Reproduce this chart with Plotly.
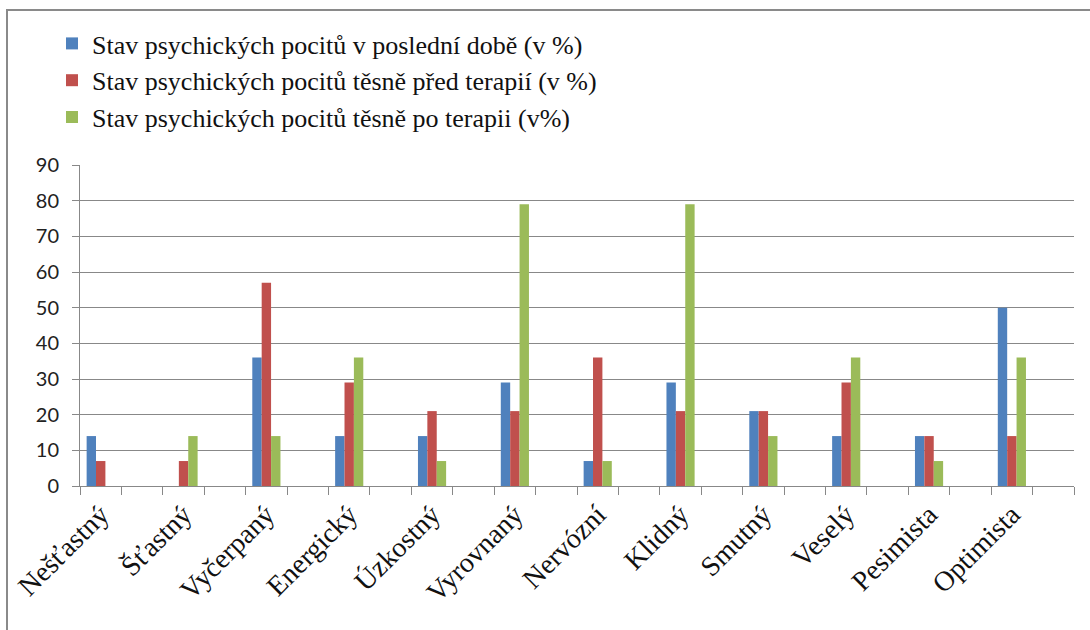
import plotly.graph_objects as go

categories = ["Nešťastný", "Šťastný", "Vyčerpaný", "Energický", "Úzkostný", "Vyrovnaný",
              "Nervózní", "Klidný", "Smutný", "Veselý", "Pesimista", "Optimista"]
series_names = ["Stav psychických pocitů v poslední době (v %)",
                "Stav psychických pocitů těsně před terapií (v %)",
                "Stav psychických pocitů těsně po terapii (v%)"]
recent = [14, 0, 36, 14, 14, 29, 7, 29, 21, 14, 14, 50]
before = [7, 7, 57, 29, 21, 21, 36, 21, 21, 29, 14, 14]
after = [0, 14, 14, 36, 7, 79, 7, 79, 14, 36, 7, 36]
y_ticks = [0, 10, 20, 30, 40, 50, 60, 70, 80, 90]

colors = ["#4F81BD", "#C0504D", "#9BBB59"]

# category axis: every labelled category is followed by an empty slot
cat_array = []
for i, c in enumerate(categories):
    cat_array.append(c)
    cat_array.append("\u200b" * (i + 1))


def with_blanks(vals):
    out = []
    for v in vals:
        out.append(v)
        out.append(None)
    return out


W, H = 1090, 630
L, R, T, B = 80, 16, 165, 144
pw, ph = W - L - R, H - T - B

fig = go.Figure()
for name, vals, col in zip(series_names, [recent, before, after], colors):
    fig.add_trace(go.Bar(x=cat_array, y=with_blanks(vals), name=name, marker_color=col,
                         marker_line_width=0, legendgroup=name))

grid = "#888888"
fig.update_layout(
    width=W, height=H,
    margin=dict(l=L, r=R, t=T, b=B, autoexpand=False),
    paper_bgcolor="white", plot_bgcolor="white",
    barmode="group", bargap=0.32, bargroupgap=0,
    showlegend=True,
    legend=dict(
        x=(52 - L) / pw, y=1 + (T - 20) / ph, xanchor="left", yanchor="top",
        font=dict(family="Liberation Serif", size=26, color="#111111"),
        tracegroupgap=0, bgcolor="rgba(0,0,0,0)",
    ),
    xaxis=dict(
        type="category", categoryorder="array", categoryarray=cat_array,
        range=[-0.5, len(cat_array) - 0.5],
        tickson="boundaries", ticks="outside", ticklen=8, tickcolor=grid, tickwidth=1,
        showline=True, linecolor=grid, linewidth=1,
        tickangle=-45,
        tickfont=dict(family="Liberation Serif", size=28, color="#111111"),
        showgrid=False, fixedrange=True,
    ),
    yaxis=dict(
        range=[0, 90], tickvals=y_ticks,
        ticks="outside", ticklen=7, tickcolor=grid,
        showline=True, linecolor=grid, linewidth=1,
        showgrid=True, gridcolor=grid, gridwidth=1.3,
        zeroline=False,
        tickfont=dict(family="Lato", size=20, color="#222222"),
        ticklabelstandoff=9,
    ),
    shapes=[dict(type="rect", xref="paper", yref="paper",
                 x0=(7 - L) / pw, x1=(W + 20 - L) / pw,
                 y0=-(H + 20 - T - ph) / ph, y1=(H - 10 - B) / ph,
                 line=dict(color="#8A8A8A", width=2), fillcolor="rgba(0,0,0,0)", layer="below")],
)

fig.write_html("out.html")
